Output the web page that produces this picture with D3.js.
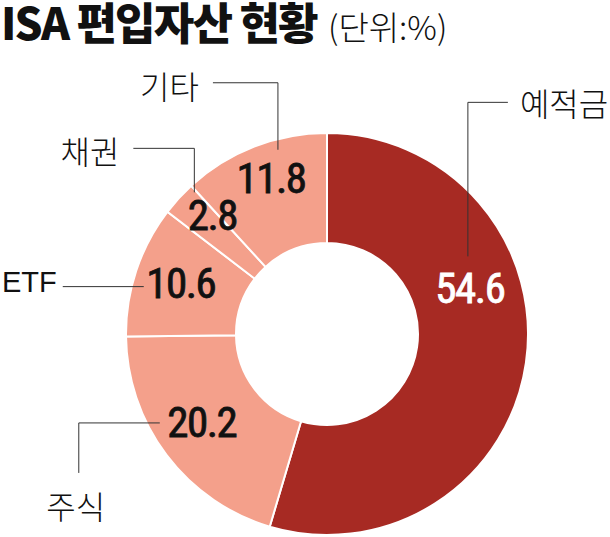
<!DOCTYPE html>
<html>
<head>
<meta charset="utf-8">
<script src="https://cdn.jsdelivr.net/npm/d3@7"></script>
<style>
  html, body { margin: 0; padding: 0; background: #fff; }
  svg { display: block; }
</style>
</head>
<body>
<div id="chart"></div>
<script>
// data, clockwise from 12 o'clock
var categories = ["예적금", "주식", "ETF", "채권", "기타"];
var shares = [54.6, 20.2, 10.6, 2.8, 11.8];
var titleText = "ISA 편입자산 현황";
var unitText = "(단위:%)";

function main() {

var width = 610, height = 537;
var cx = 327, cy = 334,
    outerR = 201, innerR = 91;

var dark = "#a72a23", light = "#f4a08b";

var svg = d3.select("#chart")
  .append("svg")
    .attr("width", width)
    .attr("height", height);

// title
svg.append("text")
  .attr("x", 1).attr("y", 40)
  .style("font-family", "'Noto Sans CJK KR', sans-serif")
  .style("font-weight", 900)
  .style("font-size", "44px")
  .style("letter-spacing", "-1.8px")
  .attr("fill", "#111")
  .text(titleText);
svg.append("text")
  .attr("x", 328).attr("y", 40)
  .style("font-family", "'Noto Sans CJK KR', sans-serif")
  .style("font-weight", 300)
  .style("font-size", "33px")
  .attr("fill", "#111")
  .text(unitText);

var rows = categories.map(function(c, i) { return {cat: c, value: shares[i]}; });

var pie = d3.pie().sort(null).value(function(d) { return d.value; });
var arc = d3.arc().innerRadius(innerR).outerRadius(outerR);
var arcs = pie(rows);

var g = svg.append("g")
  .attr("transform", "translate(" + cx + "," + cy + ")");

g.selectAll("path")
  .data(arcs)
  .enter()
  .append("path")
    .attr("d", arc)
    .attr("fill", function(d, i) { return i == 0 ? dark : light; })
    .attr("stroke", "#fff")
    .attr("stroke-width", 2);

// label placement: angle nudge (deg) from slice middle, radius
var place = {
  "예적금": [-26, 150],
  "주식": [2, 153],
  "ETF": [1, 155],
  "채권": [3.5, 165],
  "기타": [1.5, 166]
};
// leader lines & category text, offsets from the value label
var leaders = {
  "예적금": {pts: [[-2,-32],[-2,-186],[38,-186]], text: [50,-186], anchor: "start"},
  "기타": {pts: [[7,-28],[7,-95],[-58,-95]], text: [-72,-93], anchor: "end"},
  "채권": {pts: [[-18,-23],[-18,-67],[-79,-67]], text: [-93,-65], anchor: "end"},
  "ETF": {pts: [[-37,4],[-118,4]], text: [-124,-1], anchor: "end"},
  "주식": {pts: [[-42,1],[-123,1],[-123,51]], text: [-126,83], anchor: "middle"}
};

arcs.forEach(function(d, i) {
  var p = place[d.data.cat];
  var a = (d.startAngle + d.endAngle) / 2 + p[0] * Math.PI / 180;
  var x = p[1] * Math.sin(a), y = -p[1] * Math.cos(a);
  var col = i == 0 ? "#fff" : "#111";

  g.append("text")
    .attr("x", x).attr("y", y)
    .attr("text-anchor", "middle")
    .attr("dominant-baseline", "central")
    .style("font-family", "'Liberation Sans Narrow', 'Roboto Condensed', sans-serif")
    .style("font-size", "43px")
    .style("letter-spacing", "-1.5px")
    .attr("fill", col)
    .attr("stroke", col)
    .attr("stroke-width", 0.8)
    .text(d3.format(".1f")(d.data.value));

  var L = leaders[d.data.cat];
  g.append("path")
    .attr("d", d3.line()(L.pts.map(function(q) { return [x + q[0], y + q[1]]; })))
    .attr("fill", "none")
    .attr("stroke", "#333")
    .attr("stroke-width", 1);

  var isLatin = d.data.cat == "ETF";
  g.append("text")
    .attr("x", x + L.text[0]).attr("y", y + L.text[1])
    .attr("text-anchor", L.anchor)
    .attr("dominant-baseline", "central")
    .style("font-family", isLatin ? "'Liberation Sans', sans-serif" : "'Noto Sans CJK KR', sans-serif")
    .style("font-weight", isLatin ? 400 : 300)
    .style("font-size", isLatin ? "29px" : "32px")
    .attr("fill", "#111")
    .text(d.data.cat);
});

}

document.addEventListener("DOMContentLoaded", main);
</script>
</body>
</html>
